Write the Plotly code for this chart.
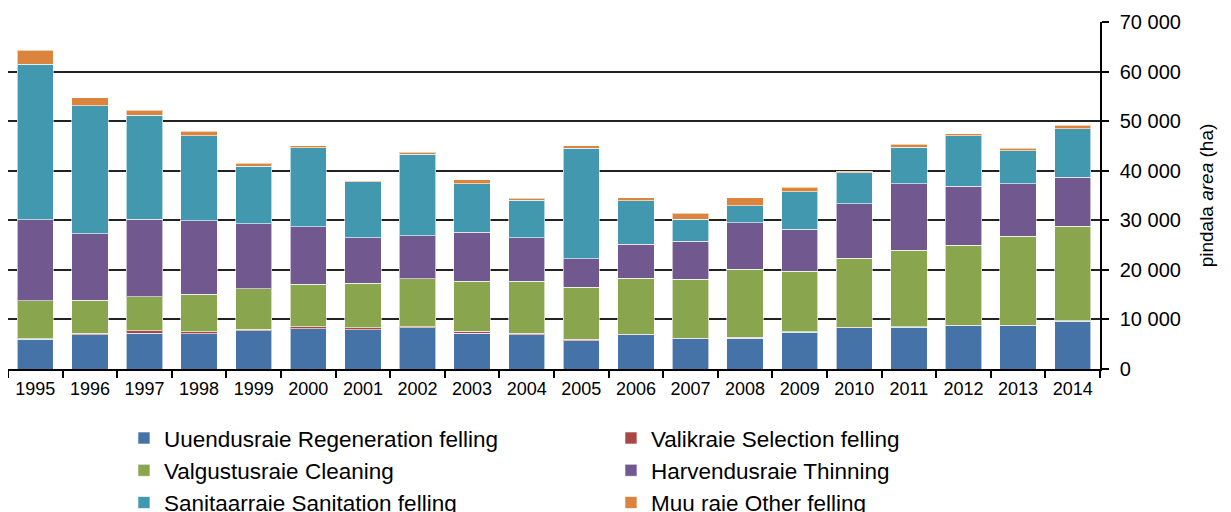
import plotly.graph_objects as go

years = [str(y) for y in range(1995, 2015)]

regeneration = [5990, 6860, 7260, 7120, 7670, 8130, 7930, 8330, 7260, 6920,
                5710, 6860, 6110, 6250, 7460, 8330, 8410, 8740, 8740, 9620]
selection = [100, 400, 410, 400, 400, 400, 400, 200, 350, 280,
             280, 200, 140, 140, 100, 100, 100, 100, 100, 100]
cleaning = [7630, 6660, 6920, 7610, 8130, 8560, 8960, 9690, 10140, 10490,
            10550, 11240, 11850, 13780, 12210, 13900, 15440, 16170, 17930, 19070]
thinning = [16340, 13370, 15670, 14730, 13110, 11620, 9200, 8670, 9830, 8800,
            5710, 6860, 7660, 9340, 8410, 11020, 13430, 11850, 10610, 9880]
sanitation = [31410, 25830, 20980, 17210, 11640, 15930, 11300, 16480, 9800, 7600,
              22270, 8790, 4500, 3430, 7590, 6190, 7340, 10210, 6660, 9810]
other = [2880, 1550, 950, 880, 550, 350, 200, 350, 750, 350,
         470, 610, 1210, 1560, 890, 340, 610, 340, 540, 680]

series = [
    ("Uuendusraie Regeneration felling", regeneration, "#4572A7"),
    ("Valikraie Selection felling", selection, "#AA4643"),
    ("Valgustusraie Cleaning", cleaning, "#89A54E"),
    ("Harvendusraie Thinning", thinning, "#71588F"),
    ("Sanitaarraie Sanitation felling", sanitation, "#4198AF"),
    ("Muu raie Other felling", other, "#DB843D"),
]

fig = go.Figure()
for name, vals, color in series:
    fig.add_trace(go.Bar(
        x=years, y=vals, name=name,
        marker=dict(color=color, line=dict(color="rgba(255,255,255,0.6)", width=1)),
    ))

font = "Liberation Sans, Arial, sans-serif"

# page body has an 8px margin, so the figure is offset by 8px in the window
fig.update_layout(
    width=1215, height=504,
    barmode="stack",
    bargap=0.335,
    plot_bgcolor="white",
    paper_bgcolor="white",
    separators=", ",
    margin=dict(l=0, r=123, t=14, b=143, autoexpand=False),
    font=dict(family=font, color="black"),
    legend=dict(
        orientation="h",
        x=0.1062, xanchor="left",
        y=-0.138, yanchor="top",
        traceorder="normal",
        entrywidth=442, entrywidthmode="pixels",
        itemwidth=30,
        font=dict(size=22.5, family=font, color="black"),
        bgcolor="rgba(0,0,0,0)",
    ),
)

fig.update_xaxes(
    type="category",
    showline=True, linecolor="black", linewidth=1.5,
    ticks="outside", tickson="boundaries", ticklen=7, tickcolor="black", tickwidth=1.5,
    ticklabelstandoff=3,
    tickfont=dict(size=18),
    showgrid=False,
)

fig.update_yaxes(
    side="right",
    range=[0, 70000],
    dtick=10000,
    tickformat=",",
    showline=True, mirror=True, linecolor="black", linewidth=1.5,
    ticks="outside", ticklen=7, tickcolor="black", tickwidth=1.5,
    ticklabelstandoff=7,
    showgrid=True, gridcolor="#222222", gridwidth=1.5,
    zeroline=False,
    tickfont=dict(size=20),
    title=dict(text="pindala <i>area</i> (ha)", font=dict(size=19), standoff=20),
)

fig.write_html("out.html")
